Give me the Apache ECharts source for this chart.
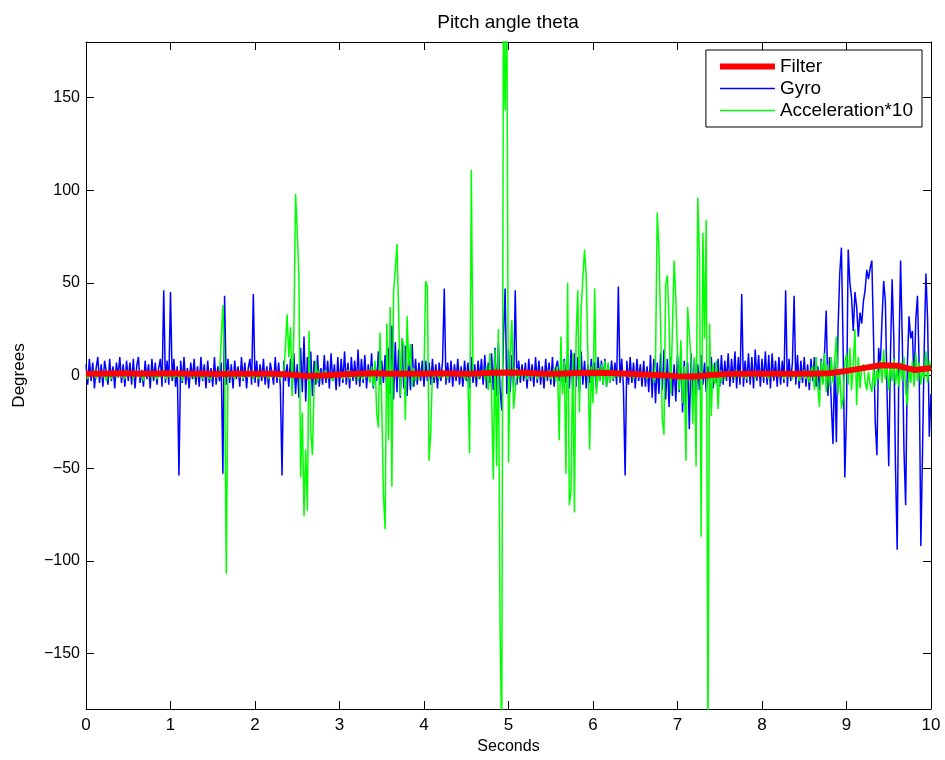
<!DOCTYPE html>
<html>
<head>
<meta charset="utf-8">
<title>Pitch angle theta</title>
<script src="https://cdn.jsdelivr.net/npm/echarts@6/dist/echarts.min.js"></script>
<style>
  html, body { margin: 0; padding: 0; background: #fff; }
  #chart { width: 945px; height: 760px; }
</style>
</head>
<body>
<div id="chart"></div>
<script>
// sample step of gyro / acceleration (s) and of the filter output (s)
const sampleStep = 0.02;
const filterStep = 0.2;

const legendNames = ['Filter', 'Gyro', 'Acceleration*10'];
const xTicks = [0, 1, 2, 3, 4, 5, 6, 7, 8, 9, 10];
const yTicks = [-150, -100, -50, 0, 50, 100, 150];

// gyro angle, degrees, one value per 0.02 s
const gyro = [
  6,-5,9,-3,7,-7,4,10,-4,6,
  -6,8,2,-5,9,-3,5,-7,7,-1,
  10,-4,6,-6,8,-3,7,-5,9,-7,
  5,10,-4,3,-6,8,-2,6,-7,9,
  -3,7,-5,4,9,-6,46,-4,8,-5,
  45,-3,9,-6,5,-54,8,-4,10,-5,
  4,-7,7,-2,9,-5,5,-6,10,-3,
  6,-7,8,-4,4,-6,10,-5,5,-3,
  7,-53,43,-5,9,-4,6,-7,8,-2,
  5,-6,10,-3,7,-7,4,9,-5,44,
  -4,8,-6,6,-3,9,-5,5,-7,7,
  2,-5,10,-4,7,-6,-54,8,-3,6,
  -6,9,-8,12,-10,6,-12,15,-9,21,
  -14,10,-7,13,-11,8,-5,11,-6,4,
  -5,11,-4,8,-7,12,-3,6,-8,10,
  -6,9,-4,13,-5,7,-7,10,-3,8,
  -5,14,-6,9,-4,11,-7,6,-3,12,
  -7,6,-3,13,-5,8,-4,11,-8,15,
  -10,27,-13,18,-9,14,-12,20,-7,16,
  -11,12,-8,17,-6,9,-5,7,-3,8,
  -6,8,-3,7,-5,9,-4,6,-7,7,
  -3,8,47,-5,7,-4,8,-6,6,-3,
  9,-5,5,-6,8,-3,7,-7,10,-4,
  6,-6,8,-2,9,-5,11,-7,7,-4,
  12,-8,15,-11,18,-7,-19,20,47,-10,
  14,-9,11,-6,46,-5,8,-4,6,-3,
  7,-7,9,-3,6,-6,10,-4,8,-5,
  5,-7,9,-3,7,-5,10,-6,4,8,
  -3,7,-5,9,-4,11,-7,14,-8,12,
  -6,10,-9,13,-5,8,-7,6,-4,9,
  -4,7,-7,10,-3,8,-5,9,-6,6,
  -4,8,-3,7,-5,48,-4,9,-6,-54,
  8,-5,10,-4,7,-7,9,-3,6,-6,
  8,-6,5,-9,11,-12,9,-15,7,-10,
  12,-8,14,-13,9,-17,10,-11,6,-14,
  11,-9,13,-20,8,-16,7,-29,12,-10,
  9,-14,6,-8,11,-5,7,-9,5,-4,
  10,-7,7,-4,9,-6,11,-5,8,-3,
  12,-6,9,-4,13,-7,10,-5,44,-6,
  8,-4,12,-5,10,-7,14,-3,11,-6,
  9,-4,13,-5,11,-7,12,-3,8,-6,
  10,-5,8,-4,46,-6,9,-3,7,43,
  -5,11,-7,8,-4,10,-6,6,-8,9,
  -3,10,-6,5,-8,9,-4,12,35,-11,
  10,-15,-37,8,-36,25,55,69,15,-55,
  -20,68,50,42,24,45,37,21,34,28,
  40,46,57,52,58,62,20,-25,-43,15,
  5,30,51,40,-10,-49,10,52,20,-50,
  -94,10,62,20,-40,-70,5,32,20,24,
  -5,30,43,5,-92,-40,15,55,30,-33,
  -10
];

// acceleration angle times 10, degrees, one value per 0.02 s
const accel = [
  1,-2,2,0,-1,3,-2,1,0,2,
  -1,2,-3,1,0,-2,2,1,-1,0,
  2,-1,1,-2,3,0,-1,2,-2,1,
  0,2,-1,1,-3,2,0,-1,2,-2,
  1,0,-2,2,-1,1,3,-2,0,1,
  -1,2,-2,0,1,-1,2,-3,1,0,
  2,-1,0,1,-2,2,-1,1,0,-2,
  1,2,-1,0,-2,1,2,-1,0,1,
  2,38,5,-107,3,-1,2,0,-2,1,
  0,-1,2,-2,1,0,-1,2,1,-2,
  1,0,-2,1,2,-1,0,1,-2,2,
  -1,0,2,-1,1,-2,0,2,15,33,
  10,26,-11,24,98,78,53,-55,-20,-76,
  -40,-73,24,-30,-43,-5,8,-4,3,-2,
  2,-1,3,-2,1,0,-3,2,-1,1,
  0,2,-2,1,-1,3,-2,0,1,-1,
  2,-3,1,0,-2,2,-1,3,-4,5,
  -6,8,-20,-28,23,-15,-65,-83,28,-35,
  37,-60,45,57,71,33,-11,20,17,-24,
  32,5,17,-6,4,-3,2,-2,1,0,
  3,51,48,-46,-30,2,-1,2,0,-2,
  1,-1,2,0,-2,1,0,2,-1,1,
  0,2,-1,1,-2,3,-4,-42,111,2,
  -1,2,-2,1,0,3,-2,5,-8,12,
  -9,-56,14,-49,25,-135,-200,200,143,210,
  -47,10,30,-18,-8,4,-2,3,-1,2,
  0,-2,1,2,-1,0,2,-2,1,0,
  -1,2,-2,1,3,-2,0,4,-3,5,
  -35,21,-10,8,-53,50,-70,-62,12,-74,
  20,46,-20,35,53,68,53,10,-40,5,
  -15,47,-10,4,-3,6,-5,8,-6,7,
  -4,3,-2,1,0,-1,2,-1,1,0,
  2,-1,0,1,-2,1,0,-1,2,-1,
  1,0,-2,2,-1,3,-4,8,88,68,
  28,-24,-32,49,54,30,-10,25,62,42,
  10,-8,19,-15,5,-46,37,23,8,-26,
  10,-49,96,65,-87,77,20,84,-200,28,
  -22,6,-5,8,-18,3,-4,2,-2,1,
  0,2,-1,1,-2,3,-1,0,2,-1,
  1,-2,2,0,-1,1,-2,2,0,-1,
  2,-1,1,0,-2,2,-1,1,0,2,
  -1,0,2,-2,1,0,-1,2,-2,1,
  0,2,-3,1,-1,3,-2,2,-4,3,
  5,-8,10,-6,-17,8,-5,12,-9,6,
  -6,10,-4,8,21,-10,3,-18,-12,7,
  12,-5,15,-8,6,25,-16,10,-7,4,
  6,-3,-8,2,-5,-9,4,-6,3,-2,
  8,-4,14,-2,5,-8,6,-3,9,-5,
  4,-6,7,-3,10,-8,-16,5,-4,8,
  -6,12,-3,7,-5,4,-2,13,-4,8,
  3
];

// filter output, degrees, one value per 0.2 s
const filter = [
  1,1,1.2,1,1,1.2,1,1,0.8,1,
  1,1,0.5,-0.3,0,0.6,1,1.2,1,1,
  1,1.2,1,1,1.5,1.6,1.5,1,1,1.4,
  1.5,1.4,1,0.6,0.2,-0.4,-0.5,0.3,0.8,1,
  1,1,1,1,1.2,2.5,4,5.5,5.3,3,
  4
];

function toPairs(values, step) {
  return values.map((v, i) => [+(i * step).toFixed(3), v]);
}

const font = '"Liberation Sans", Arial, Helvetica, sans-serif';
const black = '#000';
const minus = v => (v < 0 ? '\u2212' + Math.abs(v) : String(v));

// axis frame: MATLAB style box, ticks pointing inwards on all four sides
function frameAxis(extra) {
  return Object.assign({
    type: 'value',
    axisLine: {show: true, onZero: false, lineStyle: {color: black, width: 1}},
    axisTick: {show: true, inside: true, length: 8, lineStyle: {color: black}},
    splitLine: {show: false}
  }, extra);
}

let myChart = echarts.init(document.getElementById('chart'));
myChart.setOption({
  animation: false,
  backgroundColor: '#fff',
  textStyle: {fontFamily: font, color: black},
  title: {
    text: 'Pitch angle theta',
    left: 503,
    top: 8,
    textAlign: 'center',
    textStyle: {fontFamily: font, fontSize: 19, fontWeight: 'normal', color: black}
  },
  legend: {
    data: [
      {name: legendNames[0], lineStyle: {width: 6}},
      {name: legendNames[1], lineStyle: {width: 1.5}},
      {name: legendNames[2], lineStyle: {width: 1.5}}
    ],
    orient: 'vertical',
    right: 23,
    top: 50,
    itemWidth: 55,
    itemHeight: 14,
    itemGap: 3,
    padding: [7, 9, 7, 11],
    borderColor: black,
    borderWidth: 1,
    backgroundColor: '#fff',
    selectedMode: false,
    itemStyle: {opacity: 0},
    textStyle: {fontFamily: font, fontSize: 19, color: black}
  },
  grid: {left: 86, right: 14, top: 42, bottom: 51},
  xAxis: [frameAxis({
    min: 0,
    max: 10,
    interval: 1,
    name: 'Seconds',
    nameLocation: 'middle',
    nameGap: 29,
    nameTextStyle: {fontFamily: font, fontSize: 16, color: black},
    axisLabel: {fontFamily: font, fontSize: 17, color: black, margin: 8}
  }), frameAxis({
    position: 'top',
    min: 0,
    max: 10,
    interval: 1,
    axisLabel: {show: false}
  })],
  yAxis: [frameAxis({
    min: -180,
    max: 180,
    name: 'Degrees',
    nameLocation: 'middle',
    nameGap: 58,
    nameRotate: 90,
    nameTextStyle: {fontFamily: font, fontSize: 17, color: black},
    axisTick: {show: true, inside: true, length: 8, customValues: yTicks, lineStyle: {color: black}},
    axisLabel: {fontFamily: font, fontSize: 16, color: black, margin: 6, customValues: yTicks, formatter: minus}
  }), frameAxis({
    position: 'right',
    min: -180,
    max: 180,
    axisTick: {show: true, inside: true, length: 8, customValues: yTicks, lineStyle: {color: black}},
    axisLabel: {show: false, customValues: yTicks}
  })],
  series: [{
    name: 'Gyro',
    type: 'line',
    data: toPairs(gyro, sampleStep),
    symbol: 'none',
    showSymbol: false,
    z: 2,
    itemStyle: {color: '#0000ff'},
    lineStyle: {color: '#0000ff', width: 1.5}
  }, {
    name: 'Acceleration*10',
    type: 'line',
    data: toPairs(accel, sampleStep),
    symbol: 'none',
    showSymbol: false,
    z: 3,
    itemStyle: {color: '#00ff00'},
    lineStyle: {color: '#00ff00', width: 1.5}
  }, {
    name: 'Filter',
    type: 'line',
    data: toPairs(filter, filterStep),
    symbol: 'none',
    showSymbol: false,
    z: 4,
    itemStyle: {color: '#ff0000'},
    lineStyle: {color: '#ff0000', width: 6}
  }]
});
</script>
</body>
</html>
